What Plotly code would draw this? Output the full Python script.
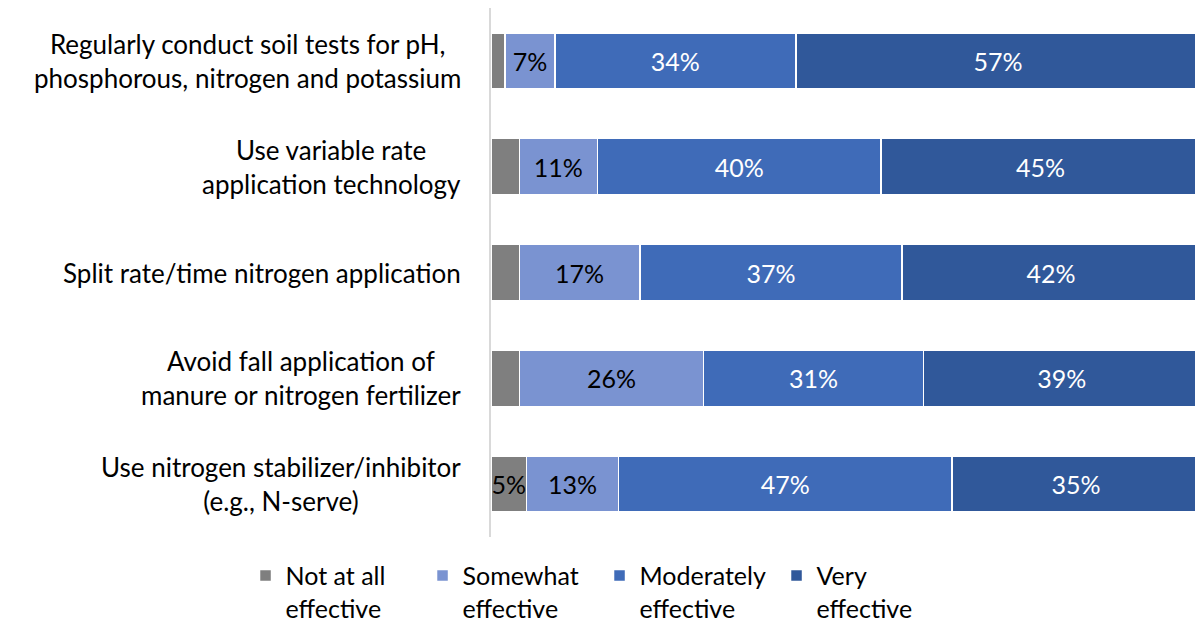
import plotly.graph_objects as go

practices = [
    "Regularly conduct soil tests for pH,<br>phosphorous, nitrogen and potassium",
    "Use variable rate<br>application technology",
    "Split rate/time nitrogen application",
    "Avoid fall application of<br>manure or nitrogen fertilizer",
    "Use nitrogen stabilizer/inhibitor<br>(e.g., N-serve)",
]
not_at_all = [2, 4, 4, 4, 5]
somewhat = [7, 11, 17, 26, 13]
moderately = [34, 40, 37, 31, 47]
very = [57, 45, 42, 39, 35]

series = [
    ("Not at all<br>effective", not_at_all, "#7f7f7f", "black"),
    ("Somewhat<br>effective", somewhat, "#7a93d1", "black"),
    ("Moderately<br>effective", moderately, "#3f6bb8", "white"),
    ("Very<br>effective", very, "#30589a", "white"),
]

FONT = "Lato"

fig = go.Figure()
for name, vals, color, txtcol in series:
    fig.add_trace(go.Bar(
        y=practices, x=vals, orientation="h", name=name,
        marker=dict(color=color, line=dict(color="white", width=1.5)),
        text=[f"{v}%" if v >= 5 else "" for v in vals],
        textposition="inside", insidetextanchor="middle", textangle=0,
        textfont=dict(color=txtcol, size=25, family=FONT),
        constraintext="none",
    ))

# category labels as centred multi-line annotations
for p in practices:
    fig.add_annotation(
        x=-0.039, xref="paper", y=p, yref="y", text=p, showarrow=False,
        xanchor="right", yanchor="middle", align="center",
        font=dict(size=26, family=FONT, color="black"),
    )

# page body has an 8px margin, so the figure is sized to the visible area
fig.update_layout(
    barmode="stack", bargap=0.47,
    width=1195, height=617,
    margin=dict(l=483, r=3, t=0, b=88, autoexpand=False),
    plot_bgcolor="white", paper_bgcolor="white",
    font=dict(family=FONT, size=25, color="black"),
    showlegend=True,
    legend=dict(
        orientation="h", xref="container", x=0.495, xanchor="center",
        yref="paper", y=-0.03, yanchor="top", valign="top",
        font=dict(size=25, family=FONT), itemwidth=30, traceorder="normal",
        entrywidth=132, entrywidthmode="pixels", tracegroupgap=0,
    ),
)
fig.update_xaxes(range=[0, 100], visible=False)
fig.update_yaxes(
    autorange="reversed", showticklabels=False, showgrid=False,
    showline=True, linecolor="#d9d9d9", linewidth=2, ticks="",
)

fig.write_html("out.html")
